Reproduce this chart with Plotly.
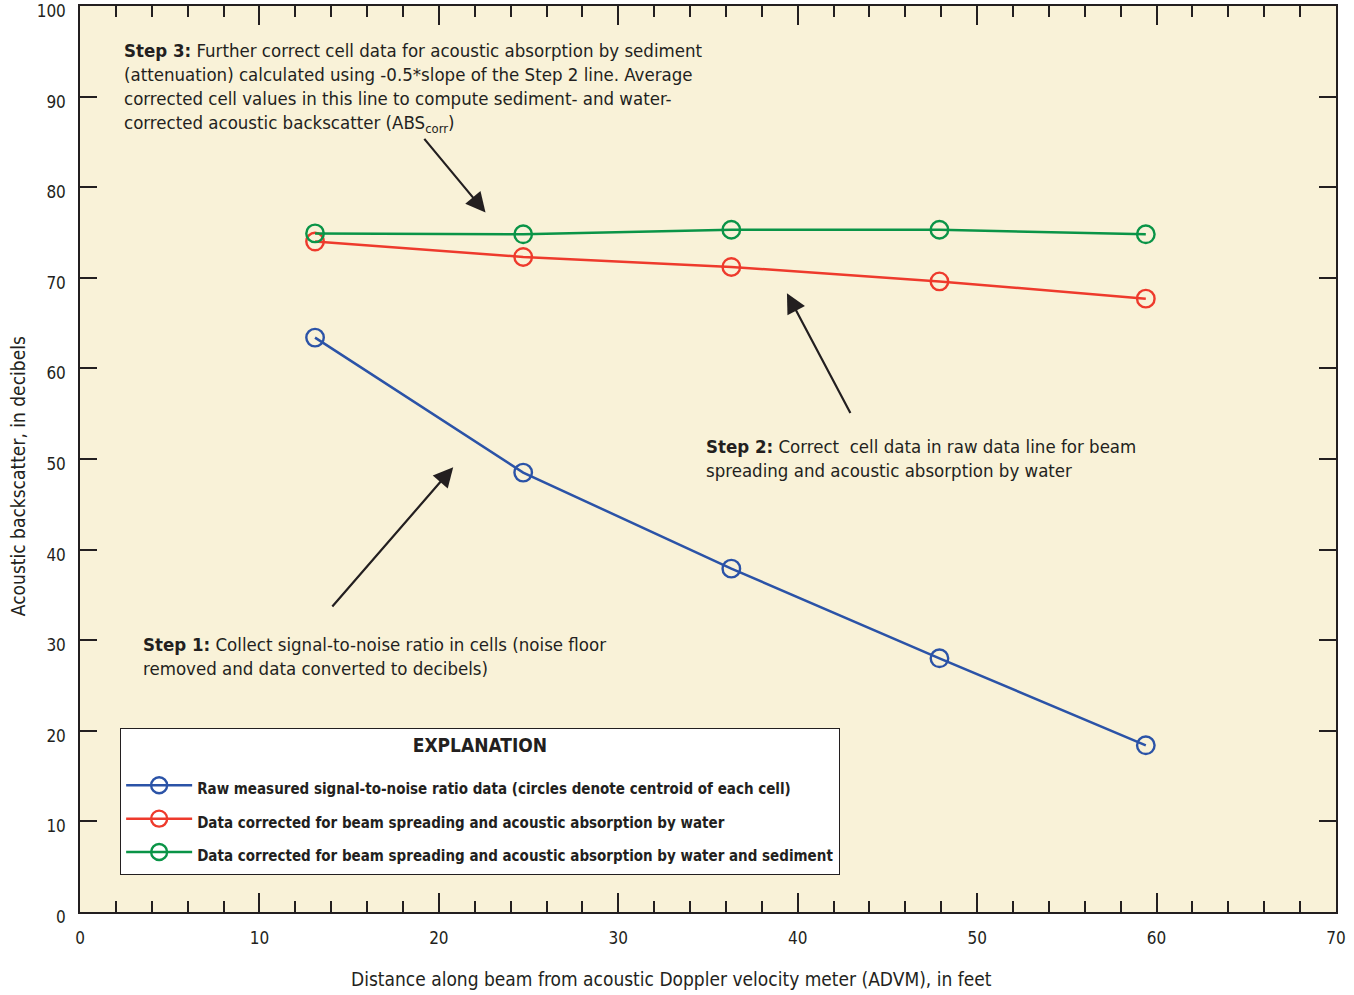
import plotly.graph_objects as go

# ---- data ----
distance_ft = [13.1, 24.7, 36.3, 47.9, 59.4]
raw_snr_db = [63.4, 48.5, 37.9, 28.0, 18.4]
water_corrected_db = [74.0, 72.3, 71.2, 69.6, 67.7]
water_sediment_corrected_db = [74.9, 74.8, 75.3, 75.3, 74.8]

series_names = [
    "Raw measured signal-to-noise ratio data (circles denote centroid of each cell)",
    "Data corrected for beam spreading and acoustic absorption by water",
    "Data corrected for beam spreading and acoustic absorption by water and sediment",
]
series_colors = ["#2B53A7", "#EE3A2C", "#0A9447"]

x_ticks = [0, 10, 20, 30, 40, 50, 60, 70]
y_ticks = [0, 10, 20, 30, 40, 50, 60, 70, 80, 90, 100]

x_title = "Distance along beam from acoustic Doppler velocity meter (ADVM), in feet"
y_title = "Acoustic backscatter, in decibels"

FONT = "Liberation Sans Narrow, DejaVu Sans Condensed, Arial Narrow, sans-serif"
INK = "#231F20"
BG = "#F9F2D8"

fig = go.Figure()
for i, (ys, name, col) in enumerate(zip(
        [raw_snr_db, water_corrected_db, water_sediment_corrected_db],
        series_names, series_colors)):
    fig.add_trace(go.Scatter(
        x=distance_ft, y=ys, name=f"<span style='font-size:15px'>{name}</span>",
        mode="lines+markers",
        legendgroup=f"g{i}",
        line=dict(color=col, width=2.5),
        marker=dict(symbol="circle-open", size=17.5, color=col, line=dict(width=2.4, color=col)),
    ))

ann = []
def note(x, y, text):
    ann.append(dict(x=x, y=y, xref="x", yref="y", text=text, showarrow=False,
                    xanchor="left", yanchor="middle", align="left",
                    font=dict(family=FONT, size=18.5, color=INK)))

note(2.34, 91.0, "<b>Step 3:</b> Further correct cell data for acoustic absorption by sediment<br>"
                 "(attenuation) calculated using -0.5*slope of the Step 2 line. Average<br>"
                 "corrected cell values in this line to compute sediment- and water-<br>"
                 "corrected acoustic backscatter (ABS<sub>corr</sub>)")
note(34.78, 50.05, "<b>Step 2:</b> Correct  cell data in raw data line for beam<br>"
                   "spreading and acoustic absorption by water")
note(3.40, 28.2, "<b>Step 1:</b> Collect signal-to-noise ratio in cells (noise floor<br>"
                 "removed and data converted to decibels)")

def arrow(x0, y0, x1, y1):
    ann.append(dict(x=x1, y=y1, ax=x0, ay=y0, xref="x", yref="y", axref="x", ayref="y",
                    text="", showarrow=True, arrowhead=2, arrowsize=1.8, arrowwidth=2.2,
                    arrowcolor=INK, standoff=0))

arrow(19.12, 85.5, 22.6, 77.2)
arrow(42.98, 54.9, 39.4, 68.3)
arrow(13.99, 33.55, 20.8, 49.1)

# axis titles (placed as in the reference, off-centre)
ann.append(dict(x=0.4713, y=-0.0734, xref="paper", yref="paper", text=x_title,
                showarrow=False, xanchor="center", yanchor="middle",
                font=dict(family=FONT, size=19, color=INK)))
ann.append(dict(x=-0.0494, y=0.481, xref="paper", yref="paper", text=y_title,
                showarrow=False, xanchor="center", yanchor="middle", textangle=-90,
                font=dict(family=FONT, size=19, color=INK)))

fig.update_layout(
    width=1354, height=995,
    margin=dict(l=80, r=18, t=6, b=83, autoexpand=False),
    paper_bgcolor="white", plot_bgcolor=BG,
    font=dict(family=FONT, size=17, color=INK),
    showlegend=True,
    legend=dict(
        x=0.0318, y=0.2031, xanchor="left", yanchor="top",
        bgcolor="white", bordercolor=INK, borderwidth=1.2,
        font=dict(family=FONT, size=23.4, color=INK, weight="bold"),
        title=dict(text=" <br><span style='font-size:19px'><b>EXPLANATION</b></span><br> ",
                   side="top center",
                   font=dict(family=FONT, size=8.8, color=INK)),
        traceorder="grouped", tracegroupgap=0, itemwidth=66,
    ),
    annotations=ann,
)

fig.update_xaxes(
    range=[0, 70], tickvals=x_ticks, ticktext=[str(v) for v in x_ticks],
    ticks="inside", ticklen=19, tickwidth=1.5, tickcolor=INK,
    minor=dict(dtick=2, ticks="inside", ticklen=11, tickwidth=1.5, tickcolor=INK),
    showline=True, linecolor=INK, linewidth=1.5, mirror="allticks",
    showgrid=False, zeroline=False, ticklabelstandoff=10, ticklabeloverflow="allow",
    automargin=False,
    tickfont=dict(family=FONT, size=17, color=INK),
)
fig.update_yaxes(
    range=[0, 100], tickvals=y_ticks, ticktext=[str(v) for v in y_ticks],
    ticks="inside", ticklen=17, tickwidth=1.5, tickcolor=INK,
    showline=True, linecolor=INK, linewidth=1.5, mirror="allticks",
    showgrid=False, zeroline=False, ticklabelstandoff=9, ticklabeloverflow="allow",
    ticklabelshift=5, automargin=False,
    tickfont=dict(family=FONT, size=17, color=INK),
)

fig.write_html("out.html", config={"displayModeBar": False},
               post_script="document.body.style.margin='0px';")
